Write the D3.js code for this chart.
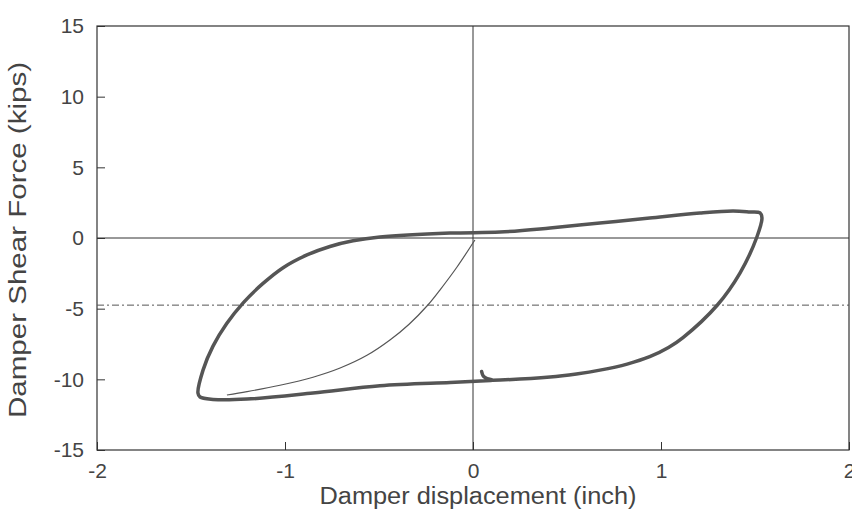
<!DOCTYPE html>
<html lang="en">
<head>
<meta charset="UTF-8">
<title>Damper hysteresis</title>
<script src="https://cdn.jsdelivr.net/npm/d3@7"></script>
<style>
    body { margin: 0; background: #fff; }
    svg { display: block; font-family: "Liberation Sans", Arial, sans-serif; }
    .tick text { fill: #444; font-size: 21px; }
    .title { fill: #444; font-size: 23px; }
</style>
</head>
<body>
<div id="chart"></div>
<script>
// axis ticks
const xTicks = [-2, -1, 0, 1, 2];
const yTicks = [-15, -10, -5, 0, 5, 10, 15];

// reference level (dash-dot line), kips
const refForce = -4.75;

// first (virgin) loading branch: displacement (inch), force (kips)
const initialDisp  = [0.01, -0.085, -0.176, -0.24, -0.34, -0.44, -0.564, -0.707, -0.851, -1.027, -1.202, -1.309];
const initialForce = [-0.14, -2.05, -3.68, -4.74, -6.10, -7.20, -8.30, -9.20, -9.85, -10.42, -10.87, -11.11];

// steady hysteresis loop, ending with the small tail
const loopDisp = [0.106, 0.144, 0.41, 0.55, 0.675, 0.82, 0.94, 1.04, 1.117, 1.30, 1.42, 1.51, 1.537, 1.527, 1.473,
    1.383, 1.207, 0.94, 0.675, 0.41, 0.144, -0.122, -0.495, -0.638, -0.761, -0.883, -1.01, -1.12,
    -1.22, -1.31, -1.383, -1.436, -1.463, -1.452, -1.383, -1.202, -0.851, -0.495, -0.122, 0.04, 0.106,
    0.075, 0.055, 0.046];
const loopForce = [-10.06, -10.05, -9.84, -9.62, -9.35, -8.92, -8.40, -7.75, -7.05, -4.74, -2.48, 0.07, 1.42, 1.77, 1.84,
    1.91, 1.77, 1.42, 1.06, 0.71, 0.42, 0.35, 0.07, -0.20, -0.60, -1.20, -2.10, -3.25,
    -4.55, -6.05, -7.65, -9.35, -10.97, -11.25, -11.42, -11.40, -10.97, -10.45, -10.22, -10.12, -10.06,
    -9.95, -9.77, -9.45];

const width = 852, height = 521;
const margin = { top: 26, right: 3, bottom: 71, left: 97 };
const iw = width - margin.left - margin.right;
const ih = height - margin.top - margin.bottom;

const svg = d3.select("#chart").append("svg")
    .attr("width", width)
    .attr("height", height);

const g = svg.append("g")
    .attr("transform", `translate(${margin.left},${margin.top})`);

const x = d3.scaleLinear().domain([-2, 2]).range([0, iw]);
const y = d3.scaleLinear().domain([-15, 15]).range([ih, 0]);

// plain hyphen for negatives, as on the original plot
const fmt = d => (d < 0 ? "-" : "") + Math.abs(d);

// axes with inward ticks
const xAxis = g.append("g")
    .attr("transform", `translate(0,${ih})`)
    .call(d3.axisBottom(x).tickValues(xTicks).tickSize(-8).tickPadding(13).tickFormat(fmt));
const yAxis = g.append("g")
    .call(d3.axisLeft(y).tickValues(yTicks).tickSize(-8).tickPadding(13).tickFormat(fmt));

[xAxis, yAxis].forEach(a => {
    a.select(".domain").remove();
    a.selectAll(".tick line").attr("stroke", "#333").attr("stroke-width", 1);
});
xAxis.selectAll(".tick text").attr("dy", "0.71em");

// frame
g.append("rect")
    .attr("width", iw)
    .attr("height", ih)
    .attr("fill", "none")
    .attr("stroke", "#333")
    .attr("stroke-width", 1.2);

// zero lines
g.append("line")
    .attr("x1", 0).attr("x2", iw)
    .attr("y1", y(0)).attr("y2", y(0))
    .attr("stroke", "#333");
g.append("line")
    .attr("x1", x(0)).attr("x2", x(0))
    .attr("y1", 0).attr("y2", ih)
    .attr("stroke", "#333");

// dash-dot reference line
g.append("line")
    .attr("x1", 0).attr("x2", iw)
    .attr("y1", y(refForce)).attr("y2", y(refForce))
    .attr("stroke", "#555")
    .attr("stroke-width", 1)
    .attr("stroke-dasharray", "7,3,2,3");

const line = d3.line()
    .x(d => x(d[0]))
    .y(d => y(d[1]))
    .curve(d3.curveCatmullRom.alpha(0.5));

g.append("path")
    .datum(initialDisp.map((d, i) => [d, initialForce[i]]))
    .attr("d", line)
    .attr("fill", "none")
    .attr("stroke", "#555")
    .attr("stroke-width", 1.2);

g.append("path")
    .datum(loopDisp.map((d, i) => [d, loopForce[i]]))
    .attr("d", line)
    .attr("fill", "none")
    .attr("stroke", "#555")
    .attr("stroke-width", 3.5)
    .attr("stroke-linejoin", "round")
    .attr("stroke-linecap", "round");

// axis titles
svg.append("text")
    .attr("class", "title")
    .attr("x", 478)
    .attr("y", 504)
    .attr("text-anchor", "middle")
    .attr("textLength", 317)
    .attr("lengthAdjust", "spacingAndGlyphs")
    .text("Damper displacement (inch)");

svg.append("text")
    .attr("class", "title")
    .attr("transform", `translate(26,240) rotate(-90)`)
    .attr("text-anchor", "middle")
    .attr("textLength", 356)
    .attr("lengthAdjust", "spacingAndGlyphs")
    .text("Damper Shear Force (kips)");
</script>
</body>
</html>
